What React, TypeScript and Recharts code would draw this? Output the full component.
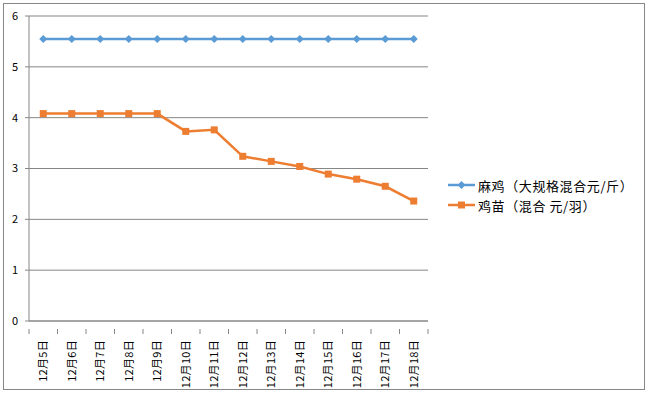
import { LineChart, Line, XAxis, YAxis, CartesianGrid } from "recharts";

const dates = [
  "12月5日",
  "12月6日",
  "12月7日",
  "12月8日",
  "12月9日",
  "12月10日",
  "12月11日",
  "12月12日",
  "12月13日",
  "12月14日",
  "12月15日",
  "12月16日",
  "12月17日",
  "12月18日",
];
const maJi = [5.55, 5.55, 5.55, 5.55, 5.55, 5.55, 5.55, 5.55, 5.55, 5.55, 5.55, 5.55, 5.55, 5.55];
const jiMiao = [4.08, 4.08, 4.08, 4.08, 4.08, 3.73, 3.76, 3.24, 3.14, 3.04, 2.89, 2.79, 2.65, 2.36];
const yTicks = [0, 1, 2, 3, 4, 5, 6];
const seriesNames = ["麻鸡（大规格混合元/斤）", "鸡苗（混合 元/羽）"];

const BLUE = "#5B9BD5";
const ORANGE = "#ED7D31";
const GRID = "#868686";
const FONT = '"Noto Sans CJK SC", "Noto Sans", sans-serif';
const HALF_BAND = 14.25;

const data = dates.map((d, i) => ({ date: d, maJi: maJi[i], jiMiao: jiMiao[i] }));

const Diamond = (props: any) => {
  const { cx, cy } = props;
  if (cx == null || cy == null) return null;
  return <path d={`M${cx},${cy - 4}L${cx + 4},${cy}L${cx},${cy + 4}L${cx - 4},${cy}Z`} fill={BLUE} />;
};

const Square = (props: any) => {
  const { cx, cy } = props;
  if (cx == null || cy == null) return null;
  return <rect x={cx - 3.5} y={cy - 3.5} width={7} height={7} fill={ORANGE} />;
};

// category label plus Excel-style tick marks between categories
const DateTick = (props: any) => {
  const { x, y, payload, index } = props;
  const last = index === dates.length - 1;
  return (
    <g>
      <line x1={x - HALF_BAND} y1={y} x2={x - HALF_BAND} y2={y + 5} stroke={GRID} />
      {last && <line x1={x + HALF_BAND} y1={y} x2={x + HALF_BAND} y2={y + 5} stroke={GRID} />}
      <g transform={`translate(${x},${y + 11}) rotate(-90)`}>
        <text textAnchor="end" dy="0.36em" fontSize={11} fill="#000" fontFamily={FONT} letterSpacing={0.3}>
          {payload.value}
        </text>
      </g>
    </g>
  );
};

const LegendBox = () => (
  <div
    style={{
      position: "absolute",
      left: 448,
      top: 175,
      fontFamily: FONT,
      fontSize: 13,
      color: "#000",
      letterSpacing: 0.6,
    }}
  >
    {seriesNames.map((name, i) => (
      <div key={name} style={{ display: "flex", alignItems: "center", height: 20 }}>
        <svg width={28} height={10} style={{ marginRight: 2 }}>
          <line x1={0} y1={5} x2={27} y2={5} stroke={i === 0 ? BLUE : ORANGE} strokeWidth={2.5} />
          {i === 0 ? (
            <path d="M13.5,1L17.5,5L13.5,9L9.5,5Z" fill={BLUE} />
          ) : (
            <rect x={10} y={1.5} width={7} height={7} fill={ORANGE} />
          )}
        </svg>
        <span style={{ whiteSpace: "pre" }}>{name}</span>
      </div>
    ))}
  </div>
);

export default function App() {
  return (
    <div style={{ position: "absolute", left: 0, top: 0, width: 647, height: 394, background: "#fff" }}>
      <LineChart
        width={647}
        height={394}
        data={data}
        margin={{ top: 16, right: 219, left: 0, bottom: 0 }}
      >
        <CartesianGrid vertical={false} stroke={GRID} />
        <XAxis
          dataKey="date"
          interval={0}
          height={73}
          padding={{ left: HALF_BAND, right: HALF_BAND }}
          axisLine={{ stroke: GRID }}
          tickLine={false}
          tick={<DateTick />}
        />
        <YAxis
          width={29}
          domain={[0, 6]}
          ticks={yTicks}
          axisLine={{ stroke: GRID }}
          tickLine={{ stroke: GRID }}
          tickSize={4}
          tickMargin={7}
          tick={{ fontSize: 11, fill: "#000", fontFamily: FONT }}
        />
        <Line
          dataKey="maJi"
          name={seriesNames[0]}
          stroke={BLUE}
          strokeWidth={2.5}
          dot={<Diamond />}
          isAnimationActive={false}
        />
        <Line
          dataKey="jiMiao"
          name={seriesNames[1]}
          stroke={ORANGE}
          strokeWidth={2.5}
          dot={<Square />}
          isAnimationActive={false}
        />
      </LineChart>
      <LegendBox />
      <div
        style={{
          position: "absolute",
          left: 3,
          top: 3,
          width: 642,
          height: 387,
          boxSizing: "border-box",
          border: "1px solid #878787",
          pointerEvents: "none",
        }}
      />
    </div>
  );
}
